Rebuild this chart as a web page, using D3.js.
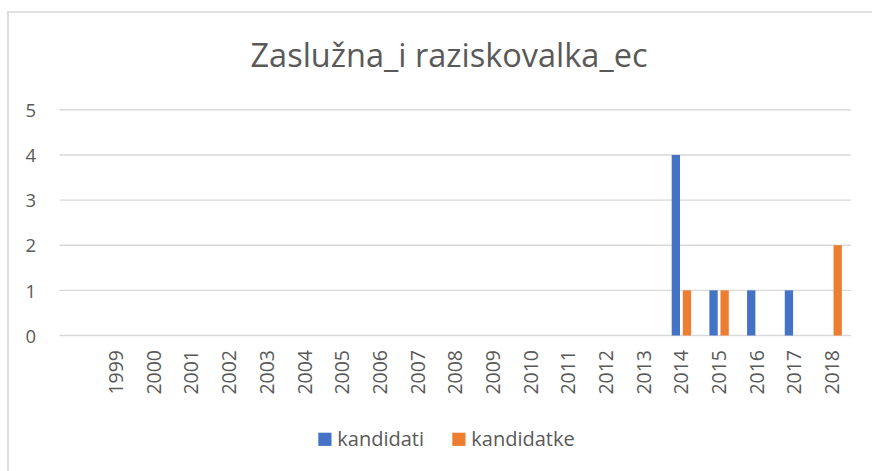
<!DOCTYPE html>
<html><head><meta charset="utf-8">
<script src="https://cdn.jsdelivr.net/npm/d3@7"></script>
<style>html,body{margin:0;padding:0;background:#fff;}svg{display:block;}</style>
</head><body>
<svg id="c" width="872" height="471"></svg>
<script>
const title = "Zaslužna_i raziskovalka_ec";
const categories = ["", "1999","2000","2001","2002","2003","2004","2005","2006","2007","2008","2009","2010","2011","2012","2013","2014","2015","2016","2017","2018"];
const seriesNames = ["kandidati", "kandidatke"];
const kandidati  = [null, 0,0,0,0,0,0,0,0,0,0,0,0,0,0,0,4,1,1,1,0];
const kandidatke = [null, 0,0,0,0,0,0,0,0,0,0,0,0,0,0,0,1,1,0,0,2];
const yTicks = [0,1,2,3,4,5];
const colors = ["#4472C4", "#ED7D31"];

const svg = d3.select("#c");
const font = "'Open Sans', sans-serif";
const textColor = "#595959";

// outer chart border (left & top visible)
svg.append("line").attr("x1",8).attr("x2",8).attr("y1",11.5).attr("y2",471).attr("stroke","#d9d9d9").attr("stroke-width",1.8);
svg.append("line").attr("x1",7).attr("x2",872).attr("y1",12).attr("y2",12).attr("stroke","#d9d9d9").attr("stroke-width",1.3);

const x0 = d3.scaleBand().domain(categories).range([59.5, 851]).paddingInner(0).paddingOuter(0);
const x1 = d3.scaleBand().domain(seriesNames).range([-9.7, 9.7]).paddingInner(0.25);
const y = d3.scaleLinear().domain([0,5]).range([335.5, 109.8]);

// gridlines
svg.append("g").selectAll("line").data(yTicks).join("line")
  .attr("x1", 59.5).attr("x2", 851)
  .attr("y1", d=>y(d)).attr("y2", d=>y(d))
  .attr("stroke", "#d9d9d9").attr("stroke-width", 1.4);

// y axis labels
const yAxis = d3.axisLeft(y).tickValues(yTicks).tickSize(0).tickPadding(0).tickFormat(d3.format("d"));
svg.append("g").attr("transform","translate(36,0)").call(yAxis)
  .call(g=>g.select(".domain").remove())
  .call(g=>g.selectAll("text").attr("fill",textColor).style("font-family",font).style("font-size","18.5px").attr("dy","0.36em"));

// x axis labels
const xAxis = d3.axisBottom(x0).tickSize(0).tickPadding(0);
svg.append("g").attr("transform","translate(0,350)").call(xAxis)
  .call(g=>g.select(".domain").remove())
  .call(g=>g.selectAll("text")
     .attr("fill",textColor).style("font-family",font).style("font-size","19.5px")
     .attr("text-anchor","end").attr("transform","rotate(-90)")
     .attr("x",0).attr("y",0).attr("dy","0.36em").attr("dx",0));

// bars
const seriesData = [kandidati, kandidatke];
seriesNames.forEach((s, si) => {
  const vals = seriesData[si];
  svg.append("g").selectAll("rect")
    .data(categories.map((c,i)=>({c, v: vals[i]})).filter(d=>d.v))
    .join("rect")
    .attr("x", d => x0(d.c) + x0.bandwidth()/2 + x1(s))
    .attr("width", x1.bandwidth())
    .attr("y", d => y(d.v))
    .attr("height", d => y(0) - y(d.v))
    .attr("fill", colors[si]);
});

// title
svg.append("text").attr("x", 449).attr("y", 67).attr("text-anchor","middle")
  .attr("fill", textColor).style("font-family", font).style("font-size","32.5px").text(title);

// legend
const legendX = [318.3, 452.3];
seriesNames.forEach((s, i) => {
  svg.append("rect").attr("x", legendX[i]).attr("y", 432.7).attr("width", 13.2).attr("height", 13.2).attr("fill", colors[i]);
  svg.append("text").attr("x", legendX[i] + 19).attr("y", 446).attr("fill", textColor)
    .style("font-family", font).style("font-size","20px").text(s);
});
</script>
</body></html>
